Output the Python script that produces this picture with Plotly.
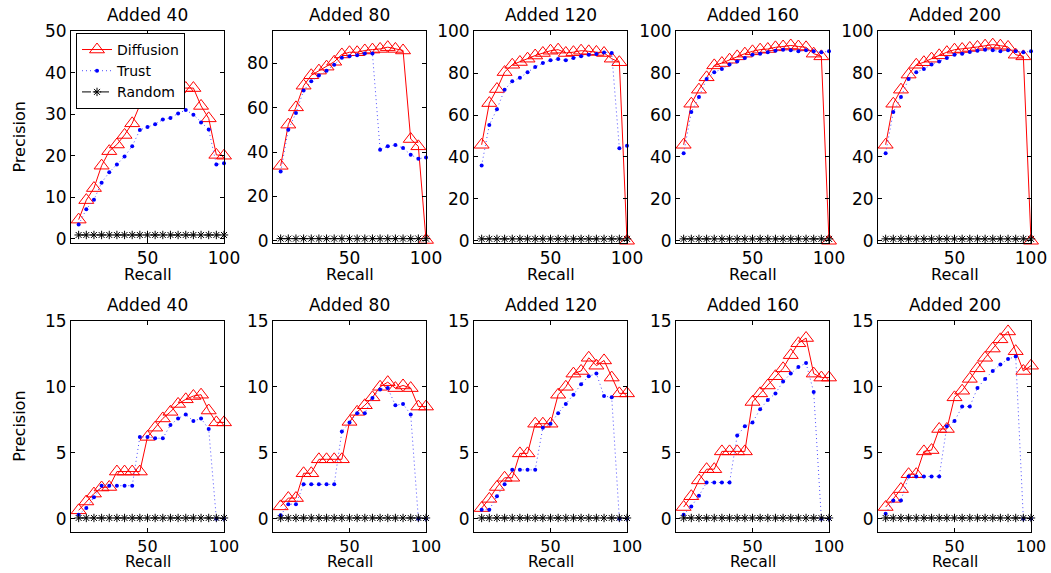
import plotly.graph_objects as go

# ---------------- data ----------------
recall = [5, 10, 15, 20, 25, 30, 35, 40, 45, 50, 55, 60, 65, 70, 75, 80, 85, 90, 95, 100]
added_labels = ["Added 40", "Added 80", "Added 120", "Added 160", "Added 200"]

# top row
diff_top_40 = [4.6, 9.3, 12.2, 17.6, 21.1, 22.7, 25.0, 27.8, 32.2, 33.2, 33.9, 35.2, 36.0, 36.0, 36.3, 36.3, 32.0, 29.0, 20.2, 20.0]
trust_top_40 = [3.4, 7.1, 9.4, 13.5, 16.0, 17.9, 19.8, 22.3, 26.2, 26.9, 27.6, 28.7, 29.1, 30.2, 31.0, 29.9, 28.0, 26.3, 17.9, 18.2]
diff_top_80 = [33.8, 52.4, 60.2, 70.0, 74.7, 76.8, 78.6, 80.8, 84.1, 85.1, 85.1, 85.9, 86.3, 86.6, 87.4, 86.6, 85.9, 45.9, 42.6, 0.3]
trust_top_80 = [31.2, 50.1, 57.7, 67.8, 72.0, 74.6, 76.8, 79.5, 82.6, 83.3, 83.8, 84.5, 84.5, 41.1, 42.6, 43.2, 41.8, 38.8, 37.0, 37.6]
diff_top_120 = [45.8, 65.7, 72.4, 80.5, 84.0, 85.3, 86.9, 88.4, 89.6, 90.7, 91.2, 89.6, 90.0, 90.7, 90.4, 90.1, 89.6, 86.9, 85.2, 0.0]
trust_top_120 = [35.9, 55.3, 62.8, 72.1, 76.1, 77.8, 80.4, 82.9, 84.8, 86.1, 86.8, 86.1, 87.2, 88.0, 88.8, 89.1, 89.9, 89.6, 44.2, 45.3]
diff_top_160 = [45.8, 65.4, 72.1, 78.0, 83.7, 84.8, 86.4, 88.0, 89.3, 90.4, 91.2, 91.5, 92.3, 92.7, 93.2, 92.7, 92.3, 89.3, 88.0, 0.0]
trust_top_160 = [41.8, 61.4, 68.6, 77.2, 80.4, 82.0, 84.1, 85.6, 87.2, 88.8, 89.3, 90.0, 90.7, 91.2, 90.9, 90.4, 90.9, 90.4, 90.0, 90.4]
diff_top_200 = [45.8, 65.4, 72.1, 79.3, 84.0, 85.2, 86.9, 88.5, 90.0, 91.2, 91.5, 92.0, 92.5, 93.1, 93.6, 93.1, 92.5, 88.8, 88.0, 0.0]
trust_top_200 = [41.8, 61.4, 68.6, 77.2, 80.4, 82.0, 84.1, 85.6, 87.2, 88.8, 89.3, 90.1, 90.7, 91.2, 90.9, 90.4, 90.9, 90.4, 90.0, 90.4]
random_top = [0.9, 0.9, 0.9, 0.9, 0.9, 0.9, 0.9, 0.9, 0.9, 0.9, 0.9, 0.9, 0.9, 0.9, 0.9, 0.9, 0.9, 0.9, 0.9, 0.9]

# bottom row
diff_bot_40 = [0.63, 1.3, 1.9, 2.36, 2.4, 3.57, 3.57, 3.57, 3.57, 6.2, 6.9, 7.6, 8.1, 8.7, 9.05, 9.3, 9.4, 8.2, 7.3, 7.3]
trust_bot_40 = [0.3, 0.8, 1.63, 2.5, 2.5, 2.5, 2.5, 2.5, 6.2, 6.2, 6.1, 6.1, 7.1, 7.6, 7.9, 7.4, 7.6, 6.8, 0.0, 0.0]
diff_bot_80 = [0.93, 1.56, 1.56, 3.44, 3.44, 4.5, 4.5, 4.5, 4.5, 7.34, 8.1, 8.6, 9.2, 10.0, 10.35, 9.9, 10.1, 9.9, 8.5, 8.5]
trust_bot_80 = [0.25, 1.1, 1.1, 2.6, 2.6, 2.6, 2.6, 2.6, 6.6, 7.3, 8.0, 8.0, 9.15, 9.8, 9.9, 8.6, 8.7, 7.9, 0.0, 0.0]
diff_bot_120 = [0.8, 1.5, 2.4, 3.1, 3.1, 4.95, 4.95, 7.2, 7.2, 7.2, 9.4, 10.0, 11.0, 11.2, 12.2, 11.6, 12.0, 10.7, 9.5, 9.5]
trust_bot_120 = [0.68, 0.68, 1.7, 2.6, 3.7, 3.7, 3.7, 3.7, 6.9, 7.2, 8.0, 8.7, 9.4, 10.2, 10.8, 11.0, 9.3, 9.2, 0.0, 0.0]
diff_bot_160 = [0.88, 1.7, 2.9, 3.75, 3.75, 5.1, 5.1, 5.1, 5.1, 8.85, 9.5, 10.1, 10.8, 11.4, 12.4, 13.3, 13.7, 11.0, 10.7, 10.7]
trust_bot_160 = [0.3, 0.93, 1.73, 2.74, 2.74, 2.74, 2.74, 6.3, 7.0, 7.3, 8.3, 9.0, 9.5, 10.4, 11.0, 11.5, 11.8, 9.6, 0.0, 0.0]
diff_bot_200 = [0.88, 1.5, 2.24, 3.37, 3.37, 5.1, 5.2, 6.8, 6.8, 9.2, 9.7, 10.6, 11.4, 12.2, 12.9, 13.6, 14.2, 12.7, 11.2, 11.6]
trust_bot_200 = [0.38, 1.38, 1.38, 3.2, 3.2, 3.2, 3.2, 3.2, 7.0, 7.4, 8.5, 8.5, 9.9, 10.6, 11.2, 11.7, 12.1, 12.3, 0.0, 0.0]
random_bot = [0.05, 0.05, 0.05, 0.05, 0.05, 0.05, 0.05, 0.05, 0.05, 0.05, 0.05, 0.05, 0.05, 0.05, 0.05, 0.05, 0.05, 0.05, 0.05, 0.05]

top_yranges = [[-1, 50], [-1, 94.6], [-1, 100], [-1, 100], [-1, 100]]
top_yticks = [[0, 10, 20, 30, 40, 50], [0, 20, 40, 60, 80], [0, 20, 40, 60, 80, 100], [0, 20, 40, 60, 80, 100], [0, 20, 40, 60, 80, 100]]
bot_yrange = [-1, 15]
bot_yticks = [0, 5, 10, 15]

# ---------------- layout geometry ----------------
W, H = 1051, 573
# the page is photographed with the plot area effectively 1035 x 557, offset 8px from the top
EFF_W, EFF_H, OFF_Y = 1035.0, 557.0, 8.0


def fx(px):
    return px / EFF_W


def fy(py):
    return 1 - (py - OFF_Y) / EFF_H


FONT = "DejaVu Sans"
col_px = [(71, 224), (273, 426), (474, 627), (676, 829), (878, 1031)]
row_px = [(29.3, 241.7), (320, 531.7)]
recall_gap = [32.0, 30.5]
recall_size = [16, 15.5]
xtick_size = [17, 16]

panels = []
tops_d = [diff_top_40, diff_top_80, diff_top_120, diff_top_160, diff_top_200]
tops_t = [trust_top_40, trust_top_80, trust_top_120, trust_top_160, trust_top_200]
bots_d = [diff_bot_40, diff_bot_80, diff_bot_120, diff_bot_160, diff_bot_200]
bots_t = [trust_bot_40, trust_bot_80, trust_bot_120, trust_bot_160, trust_bot_200]
for c in range(5):
    panels.append(dict(row=0, col=c, d=tops_d[c], t=tops_t[c], r=random_top,
                       yr=top_yranges[c], yt=top_yticks[c]))
for c in range(5):
    panels.append(dict(row=1, col=c, d=bots_d[c], t=bots_t[c], r=random_bot,
                       yr=bot_yrange, yt=bot_yticks))

fig = go.Figure()
layout = {}
annotations = []

for i, p in enumerate(panels):
    n = i + 1
    xs = "x" if n == 1 else f"x{n}"
    ys = "y" if n == 1 else f"y{n}"
    first = (n == 1)
    fig.add_trace(go.Scatter(
        x=recall, y=p["d"], xaxis=xs, yaxis=ys, name="Diffusion", mode="lines+markers",
        line=dict(color="#ff0000", width=1),
        marker=dict(symbol="triangle-up-open", size=13, color="#ff0000", line=dict(width=1, color="#ff0000")),
        showlegend=first, cliponaxis=False))
    fig.add_trace(go.Scatter(
        x=recall, y=p["t"], xaxis=xs, yaxis=ys, name="Trust", mode="lines+markers",
        line=dict(color="#4d4dff", width=1, dash="1px,3px"),
        marker=dict(symbol="circle", size=4, color="#0000ff", line=dict(width=0)),
        showlegend=first, cliponaxis=False))
    fig.add_trace(go.Scatter(
        x=recall, y=p["r"], xaxis=xs, yaxis=ys, name="Random", mode="lines+markers",
        line=dict(color="#000000", width=1, dash="dashdot"),
        marker=dict(symbol="asterisk-open", size=7, color="#000000", line=dict(width=1, color="#000000")),
        showlegend=first, cliponaxis=False))

    x0, x1 = col_px[p["col"]]
    y0, y1 = row_px[p["row"]]
    axcommon = dict(showline=True, linecolor="black", linewidth=1, mirror="allticks",
                    ticks="inside", ticklen=4, tickcolor="black", showgrid=False, zeroline=False)
    layout["xaxis" if n == 1 else f"xaxis{n}"] = dict(
        domain=[fx(x0), fx(x1)], anchor=ys, range=[0, 100], tickvals=[50, 100],
        tickfont=dict(family=FONT, size=xtick_size[p["row"]], color="black"), **axcommon)
    layout["yaxis" if n == 1 else f"yaxis{n}"] = dict(
        domain=[fy(y1), fy(y0)], anchor=xs, range=p["yr"], tickvals=p["yt"],
        tickfont=dict(family=FONT, size=17, color="black"), **axcommon)

    cx = fx((x0 + x1) / 2)
    annotations.append(dict(text=added_labels[p["col"]], x=cx, y=fy(y0 - 16),
                            xref="paper", yref="paper", showarrow=False,
                            font=dict(family=FONT, size=17, color="black"),
                            xanchor="center", yanchor="middle"))
    annotations.append(dict(text="Recall", x=cx, y=fy(y1 + recall_gap[p["row"]]),
                            xref="paper", yref="paper", showarrow=False,
                            font=dict(family=FONT, size=recall_size[p["row"]], color="black"),
                            xanchor="center", yanchor="middle"))
    if p["col"] == 0:
        annotations.append(dict(text="Precision", x=fx(19.5), y=fy((y0 + y1) / 2),
                                xref="paper", yref="paper", showarrow=False, textangle=-90,
                                font=dict(family=FONT, size=16, color="black"),
                                xanchor="center", yanchor="middle"))

fig.update_layout(
    **layout,
    annotations=annotations,
    width=W, height=H,
    margin=dict(l=0, r=0, t=0, b=0, pad=0),
    paper_bgcolor="white", plot_bgcolor="white",
    legend=dict(x=fx(76), y=fy(31), xanchor="left", yanchor="top",
                bgcolor="white", bordercolor="black", borderwidth=1,
                font=dict(family=FONT, size=14, color="black"),
                tracegroupgap=0, itemwidth=30),
)

fig.write_html("out.html")
